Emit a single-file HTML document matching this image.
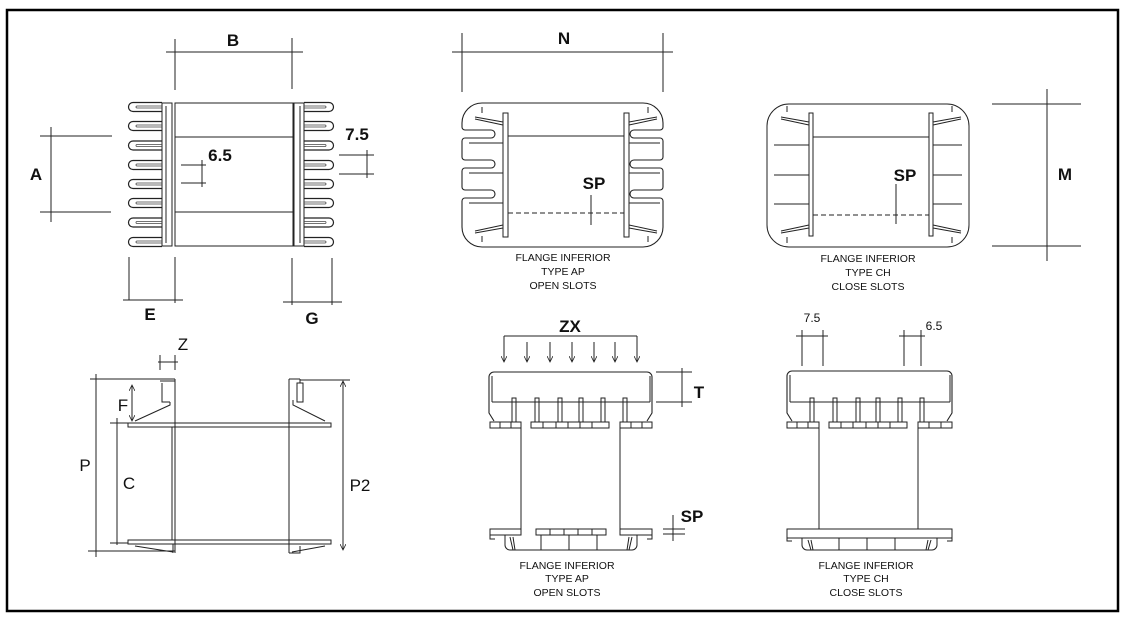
<!DOCTYPE html>
<html><head><meta charset="utf-8"><style>
html,body{margin:0;padding:0;background:#fff;}
svg{display:block}
text{font-family:"Liberation Sans",sans-serif;fill:#111}
</style></head><body>
<svg width="1127" height="621" viewBox="0 0 1127 621" xmlns="http://www.w3.org/2000/svg">
<defs>
<marker id="ar" markerWidth="7" markerHeight="6" refX="6" refY="3" orient="auto-start-reverse" markerUnits="userSpaceOnUse"><path d="M0,0 L6,3 L0,6" fill="none" stroke="#222" stroke-width="0.8"/></marker>
<g id="finL"><path d="M162,-4.5 H133 a4.5,4.5 0 0 0 0,9 H162" fill="none" stroke="#222" stroke-width="1.2"/><path d="M162,-1 H137 a1,1 0 0 0 0,2 H162" fill="none" stroke="#444" stroke-width="0.8"/></g>
<g id="finR"><path d="M304,-4.5 H329 a4.5,4.5 0 0 1 0,9 H304" fill="none" stroke="#222" stroke-width="1.2"/><path d="M304,-1 H325 a1,1 0 0 1 0,2 H304" fill="none" stroke="#444" stroke-width="0.8"/></g>
</defs>
<rect x="7" y="10" width="1111" height="601" fill="none" stroke="#000" stroke-width="2.5"/>
<g stroke="#222" stroke-width="1" fill="none">
<!-- TOP LEFT VIEW -->
<rect x="175" y="103" width="118" height="143"/>
<line x1="175" y1="137" x2="293" y2="137"/><line x1="175" y1="212" x2="293" y2="212"/>
<rect x="162" y="103" width="10" height="143"/><line x1="166" y1="106" x2="166" y2="243"/>
<rect x="294" y="103" width="10" height="143"/><line x1="300" y1="106" x2="300" y2="243"/>
<use href="#finL" y="107"/><use href="#finL" y="126"/><use href="#finL" y="145.5"/><use href="#finL" y="165"/><use href="#finL" y="184"/><use href="#finL" y="203"/><use href="#finL" y="222.5"/><use href="#finL" y="242"/>
<use href="#finR" y="107"/><use href="#finR" y="126"/><use href="#finR" y="145.5"/><use href="#finR" y="165"/><use href="#finR" y="184"/><use href="#finR" y="203"/><use href="#finR" y="222.5"/><use href="#finR" y="242"/>
<!-- dims -->
<line x1="166" y1="52" x2="303" y2="52"/><line x1="175" y1="39" x2="175" y2="90"/><line x1="292" y1="38" x2="292" y2="89"/>
<line x1="51" y1="127" x2="51" y2="222"/><line x1="40" y1="136" x2="112" y2="136"/><line x1="40" y1="212" x2="111" y2="212"/>
<line x1="202" y1="160" x2="202" y2="187"/><line x1="181" y1="165" x2="206" y2="165"/><line x1="181" y1="183" x2="206" y2="183"/>
<line x1="367" y1="150" x2="367" y2="178"/><line x1="339" y1="155" x2="374" y2="155"/><line x1="339" y1="174" x2="374" y2="174"/>
<line x1="129" y1="257" x2="129" y2="300"/><line x1="175" y1="257" x2="175" y2="303"/><line x1="123" y1="300" x2="183" y2="300"/>
<line x1="292" y1="258" x2="292" y2="305"/><line x1="332" y1="258" x2="332" y2="305"/><line x1="283" y1="302" x2="342" y2="302"/>

<!-- TOP MIDDLE -->
<line x1="452" y1="52" x2="673" y2="52"/><line x1="462" y1="33" x2="462" y2="92"/><line x1="663" y1="33" x2="663" y2="92"/>
<path d="M482,103 H643 a20,20 0 0 1 20,20 V127 a3,3 0 0 1 -3,3 H634 a4,4 0 0 0 0,8 H660 a3,3 0 0 1 3,3 V157 a3,3 0 0 1 -3,3 H634 a4,4 0 0 0 0,8 H660 a3,3 0 0 1 3,3 V187 a3,3 0 0 1 -3,3 H634 a4,4 0 0 0 0,8 H660 a3,3 0 0 1 3,3 V227 a20,20 0 0 1 -20,20 H482 a20,20 0 0 1 -20,-20 V201 a3,3 0 0 1 3,-3 H491 a4,4 0 0 0 0,-8 H465 a3,3 0 0 1 -3,-3 V171 a3,3 0 0 1 3,-3 H491 a4,4 0 0 0 0,-8 H465 a3,3 0 0 1 -3,-3 V141 a3,3 0 0 1 3,-3 H491 a4,4 0 0 0 0,-8 H465 a3,3 0 0 1 -3,-3 V123 a20,20 0 0 1 20,-20 Z" stroke-width="1.1"/>
<rect x="503" y="113" width="5" height="124"/><rect x="624" y="113" width="5" height="124"/>
<line x1="508" y1="136" x2="624" y2="136"/><line x1="508" y1="213" x2="624" y2="213" stroke-dasharray="5,3"/>
<line x1="469" y1="143" x2="503" y2="143"/><line x1="469" y1="173" x2="503" y2="173"/><line x1="469" y1="203" x2="503" y2="203"/>
<line x1="629" y1="143" x2="660" y2="143"/><line x1="629" y1="173" x2="660" y2="173"/><line x1="629" y1="203" x2="660" y2="203"/>
<path d="M475,117 L503,122 M475,119 L503,125 M475,233 L503,228 M475,231 L503,225"/>
<path d="M657,117 L629,122 M657,119 L629,125 M657,233 L629,228 M657,231 L629,225"/>
<line x1="482" y1="107" x2="482" y2="113"/><line x1="648" y1="107" x2="648" y2="113"/><line x1="482" y1="236" x2="482" y2="242"/><line x1="648" y1="236" x2="648" y2="242"/>
<line x1="591" y1="195" x2="591" y2="225"/>

<!-- TOP RIGHT -->
<rect x="767" y="104" width="202" height="143" rx="22"/>
<rect x="809" y="113" width="4" height="123"/><rect x="929" y="113" width="4" height="123"/>
<line x1="813" y1="137" x2="929" y2="137"/><line x1="813" y1="215" x2="929" y2="215" stroke-dasharray="5,3"/>
<line x1="774" y1="145" x2="809" y2="145"/><line x1="774" y1="175" x2="809" y2="175"/><line x1="774" y1="204" x2="809" y2="204"/>
<line x1="933" y1="145" x2="962" y2="145"/><line x1="933" y1="175" x2="962" y2="175"/><line x1="933" y1="204" x2="962" y2="204"/>
<path d="M781,117 L809,122 M781,119 L809,125 M781,233 L809,228 M781,231 L809,225"/>
<path d="M961,117 L933,122 M961,119 L933,125 M961,233 L933,228 M961,231 L933,225"/>
<line x1="787" y1="106" x2="787" y2="112"/><line x1="952" y1="106" x2="952" y2="112"/><line x1="787" y1="237" x2="787" y2="243"/><line x1="952" y1="237" x2="952" y2="243"/>
<line x1="896" y1="184" x2="896" y2="224"/>
<line x1="1047" y1="89" x2="1047" y2="261"/><line x1="992" y1="104" x2="1081" y2="104"/><line x1="992" y1="246" x2="1081" y2="246"/>

<!-- BOTTOM LEFT -->
<line x1="158" y1="362" x2="178" y2="362"/><line x1="160" y1="355" x2="160" y2="370"/><line x1="175" y1="355" x2="175" y2="370"/>
<line x1="96" y1="374" x2="96" y2="557"/><line x1="90" y1="379" x2="175" y2="379"/><line x1="88" y1="551" x2="175" y2="551"/>
<line x1="175" y1="379" x2="175" y2="553"/><line x1="172" y1="427" x2="172" y2="540"/>
<path d="M162,383 V402 H170 M170,402 L170,405 L135,421"/>
<line x1="160" y1="381" x2="175" y2="381"/>
<rect x="128" y="423" width="203" height="4"/>
<rect x="128" y="540" width="203" height="4"/>
<line x1="289" y1="379" x2="289" y2="553"/><line x1="289" y1="379" x2="300" y2="379"/><line x1="300" y1="379" x2="300" y2="383"/>
<path d="M297,383 V402 H303 V383 Z M293,400 V405 L325,421"/>
<path d="M135,546 L173,552 M173,544 V553 M325,546 L292,552 M289,553 H300 V546"/>
<line x1="343" y1="381" x2="343" y2="550" marker-start="url(#ar)" marker-end="url(#ar)"/>
<line x1="300" y1="380" x2="350" y2="380"/>
<line x1="132" y1="385" x2="132" y2="421" marker-start="url(#ar)" marker-end="url(#ar)"/>
<line x1="117" y1="418" x2="117" y2="545"/><line x1="110" y1="423" x2="128" y2="423"/><line x1="110" y1="543" x2="128" y2="543"/>

<!-- BOTTOM MIDDLE -->
<line x1="504" y1="336" x2="637" y2="336"/>
<g marker-end="url(#ar)"><line x1="504" y1="336" x2="504" y2="362"/><line x1="527" y1="342" x2="527" y2="362"/><line x1="550" y1="342" x2="550" y2="362"/><line x1="572" y1="342" x2="572" y2="362"/><line x1="594" y1="342" x2="594" y2="362"/><line x1="615" y1="342" x2="615" y2="362"/><line x1="637" y1="336" x2="637" y2="362"/></g>
<path d="M494,372 H647 a5,5 0 0 1 5,5 V413 L647,421 M494,372 a5,5 0 0 0 -5,5 V413 L494,421" stroke-width="1.1"/>
<line x1="492" y1="402" x2="650" y2="402"/><line x1="492" y1="376" x2="492" y2="402"/><line x1="650" y1="376" x2="650" y2="402"/>
<g><rect x="512" y="398" width="4" height="24"/><rect x="535" y="398" width="4" height="24"/><rect x="558" y="398" width="4" height="24"/><rect x="579" y="398" width="4" height="24"/><rect x="601" y="398" width="4" height="24"/><rect x="623" y="398" width="4" height="24"/></g>
<rect x="490" y="422" width="31" height="6"/><rect x="531" y="422" width="78" height="6"/><rect x="620" y="422" width="32" height="6"/>
<path d="M500,422 V428 M511,422 V428 M543,422 V428 M556,422 V428 M568,422 V428 M580,422 V428 M592,422 V428 M631,422 V428 M642,422 V428"/>
<line x1="521" y1="428" x2="521" y2="529"/><line x1="620" y1="428" x2="620" y2="529"/>
<rect x="490" y="529" width="31" height="6"/><rect x="536" y="529" width="70" height="6"/><rect x="620" y="529" width="32" height="6"/>
<path d="M550,529 V535 M564,529 V535 M578,529 V535 M592,529 V535"/>
<path d="M490,535 V539 H495 M652,535 V539 H647 M505,535 V545 a5,5 0 0 0 5,5 H632 a5,5 0 0 0 5,-5 V535 M541,535 V550 M569,535 V550 M597,535 V550 M510,537 L513,550 M513,537 L515,550 M632,537 L629,550 M629,537 L627,550"/>
<line x1="682" y1="368" x2="682" y2="407"/><line x1="656" y1="372" x2="692" y2="372"/><line x1="656" y1="402" x2="692" y2="402"/>
<line x1="673" y1="515" x2="673" y2="541"/><line x1="663" y1="529" x2="685" y2="529"/><line x1="663" y1="534" x2="685" y2="534"/>

<!-- BOTTOM RIGHT -->
<path d="M792,371 H947 a5,5 0 0 1 5,5 V413 L947,421 M792,371 a5,5 0 0 0 -5,5 V413 L792,421" stroke-width="1.1"/>
<line x1="790" y1="402" x2="950" y2="402"/><line x1="790" y1="375" x2="790" y2="402"/><line x1="950" y1="375" x2="950" y2="402"/>
<g><rect x="810" y="398" width="4" height="24"/><rect x="833" y="398" width="4" height="24"/><rect x="856" y="398" width="4" height="24"/><rect x="876" y="398" width="4" height="24"/><rect x="898" y="398" width="4" height="24"/><rect x="920" y="398" width="4" height="24"/></g>
<rect x="787" y="422" width="32" height="6"/><rect x="829" y="422" width="78" height="6"/><rect x="918" y="422" width="34" height="6"/>
<path d="M797,422 V428 M808,422 V428 M841,422 V428 M853,422 V428 M866,422 V428 M878,422 V428 M890,422 V428 M929,422 V428 M941,422 V428"/>
<line x1="819" y1="428" x2="819" y2="529"/><line x1="918" y1="428" x2="918" y2="529"/>
<rect x="787" y="529" width="165" height="9"/>
<path d="M787,538 V541 H792 M952,538 V541 H947 M802,538 V545 a5,5 0 0 0 5,5 H932 a5,5 0 0 0 5,-5 V538 M839,538 V550 M867,538 V550 M895,538 V550 M808,540 L811,550 M811,540 L813,550 M931,540 L928,550 M928,540 L926,550"/>
<line x1="802" y1="330" x2="802" y2="366"/><line x1="823" y1="330" x2="823" y2="366"/><line x1="796" y1="336" x2="828" y2="336"/>
<line x1="904" y1="330" x2="904" y2="366"/><line x1="921" y1="330" x2="921" y2="366"/><line x1="899" y1="336" x2="925" y2="336"/>
</g>

<!-- LABELS -->
<g font-size="17" font-weight="bold" text-anchor="middle">
<text x="233" y="46">B</text><text x="36" y="180">A</text><text x="150" y="320">E</text><text x="312" y="324">G</text>
<text x="564" y="44">N</text><text x="1065" y="180">M</text>
<text x="220" y="161">6.5</text><text x="357" y="140">7.5</text>
<text x="594" y="189">SP</text><text x="905" y="181">SP</text>
<text x="570" y="332">ZX</text><text x="699" y="398">T</text><text x="692" y="522">SP</text>
</g>
<g font-size="17" text-anchor="middle">
<text x="183" y="350">Z</text><text x="85" y="471">P</text><text x="123" y="411">F</text><text x="129" y="489">C</text><text x="360" y="491">P2</text>
</g>
<g font-size="12" text-anchor="middle">
<text x="812" y="322">7.5</text><text x="934" y="330">6.5</text>
</g>
<g font-size="10.5" text-anchor="middle">
<text x="563" y="261">FLANGE INFERIOR</text><text x="563" y="275">TYPE AP</text><text x="563" y="289">OPEN SLOTS</text>
<text x="868" y="262">FLANGE INFERIOR</text><text x="868" y="276">TYPE CH</text><text x="868" y="290">CLOSE SLOTS</text>
<text x="567" y="569">FLANGE INFERIOR</text><text x="567" y="582">TYPE AP</text><text x="567" y="596">OPEN SLOTS</text>
<text x="866" y="569">FLANGE INFERIOR</text><text x="866" y="582">TYPE CH</text><text x="866" y="596">CLOSE SLOTS</text>
</g>
</svg>
</body></html>
